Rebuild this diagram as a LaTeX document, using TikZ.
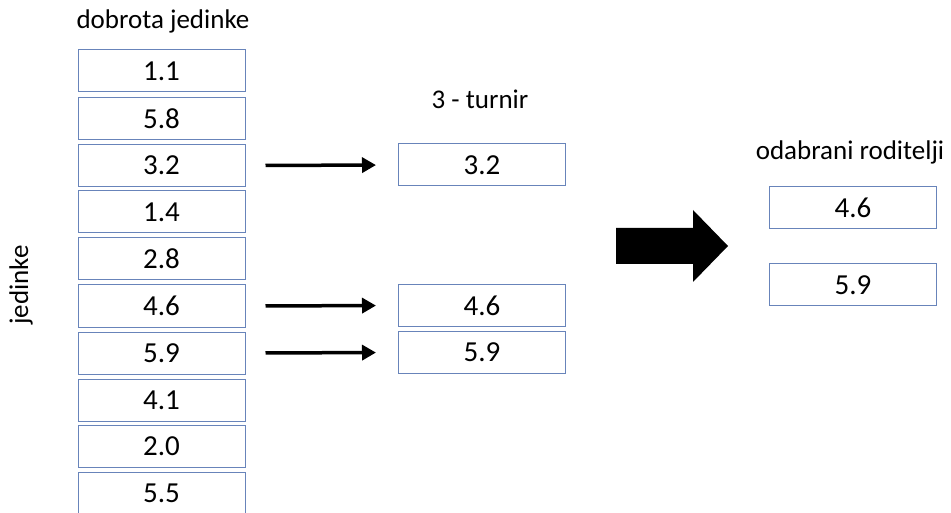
\documentclass[tikz,border=0pt]{standalone}
\usepackage{fontspec}
\setmainfont{Carlito}
\usetikzlibrary{arrows.meta}
\definecolor{boxblue}{RGB}{104,132,186}

\begin{document}
\begin{tikzpicture}[x=1pt,y=-1pt,
    valbox/.style={draw=boxblue,line width=1pt,minimum width=167pt,minimum height=42pt,
      inner sep=0pt,font=\fontsize{29}{30}\selectfont},
    heading/.style={font=\fontsize{27}{30}\selectfont},
    pick/.style={line width=3.5pt,-{Triangle[length=14pt,width=15pt]},shorten <=20pt,shorten >=22pt}]
  \useasboundingbox (0,0) rectangle (951,513);
      \draw
        (161.5, 71) node[valbox] (l1){1.1}
        (161.5, 118.5) node[valbox] (l2){5.8}
        (161.5, 165.5) node[valbox] (l3){3.2}
        (161.5, 212) node[valbox] (l4){1.4}
        (161.5, 259) node[valbox] (l5){2.8}
        (161.5, 306) node[valbox] (l6){4.6}
        (161.5, 353) node[valbox] (l7){5.9}
        (161.5, 400) node[valbox] (l8){4.1}
        (161.5, 446) node[valbox] (l9){2.0}
        (161.5, 493) node[valbox] (l10){5.5};
      \draw
        (482, 165) node[valbox] (t1){3.2}
        (482, 305.5) node[valbox] (t2){4.6}
        (482, 352.5) node[valbox] (t3){5.9};
      \draw
        (853, 207.5) node[valbox] (r1){4.6}
        (853, 285) node[valbox] (r2){5.9};
      \begin{scope}[heading]
        \node (head1) at (163, 21) {dobrota jedinke};
        \node (head2) at (480, 99) {3 - turnir};
        \node (head3) at (850, 152) {odabrani roditelji};
        \node[rotate=90] (side) at (21, 285) {jedinke};
      \end{scope}
      \begin{scope}[pick]
        \draw (l3.east) to (t1.west);
        \draw (l6.east) to (t2.west);
        \draw (l7.east) to (t3.west);
      \end{scope}
      \fill (616,228) -- (693,228) -- (693,210) -- (728,246) -- (693,282)
        -- (693,264) -- (616,264) -- cycle;
    \end{tikzpicture}
\end{document}
